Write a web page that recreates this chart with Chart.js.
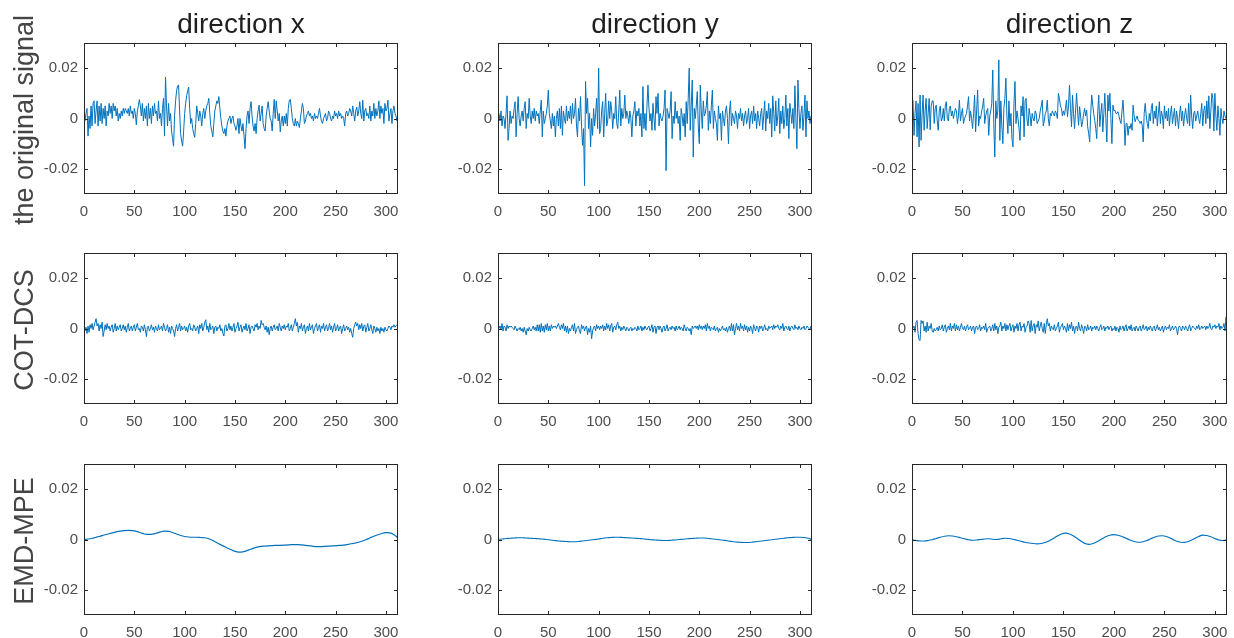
<!DOCTYPE html>
<html>
<head>
<meta charset="utf-8">
<script src="https://cdn.jsdelivr.net/npm/chart.js@4.4.1/dist/chart.umd.min.js"></script>
<style>
  html, body { margin: 0; padding: 0; background: #fff; }
  #fig { position: relative; width: 1234px; height: 638px; overflow: hidden; background: #fff;
         font-family: 'Liberation Sans', Arial, sans-serif; }
  .panel { position: absolute; }
  .title { position: absolute; font-size: 28px; line-height: 1; color: #1f1f1f; white-space: nowrap; transform: translateX(-50%); }
  .rowlab { position: absolute; font-size: 27px; line-height: 1; color: #454545; white-space: nowrap;
            transform: translate(-50%, -50%) rotate(-90deg); }
</style>
</head>
<body>
<div id="fig"></div>
<script>
// ---------------- data (signal values in units of 1e-3) ----------------
const UNIT = 1e-3;
const COL_TITLES = ['direction x', 'direction y', 'direction z'];
const ROW_LABELS = ['the original signal', 'COT-DCS', 'EMD-MPE'];
const X_TICKS = [0, 50, 100, 150, 200, 250, 300];
const Y_TICKS = [-0.02, 0, 0.02];
const Y_TICK_LABELS = ['-0.02', '0', '0.02'];

const ORIG_X = [
 -1,2,4,-7,1,-4,5,-3,6,7,
 -2,3,7,-3,5,-1,6,-2,4,0,
 5,-3,3,1,6,2,5,0,6,3,
 5,1,4,-1,2,0,3,1,4,2,
 4,3,2,4,1,5,2,3,0,4,
 2,-2.5,3,5,7.5,5,1,6,-1,4,
 0,5,-3,6,0,4,-2,5,1,6,
 2,3,-1,7,0,2,-3,4,8,-7,
 16.5,5,-3,6,-1,2,-5,-8,-11,1,
 7,11,13,13.3,3,-6,-9,-11,-5,2,
 6,9,11,12.5,4,-2,0,-4,-6,-7.5,
 -2,5,2,-1,3,1,-3,2,4,0,
 3,5,6,8,2,-3,-5,-7.3,-2,3,
 5,7,6,8.7,4,0,-3,-5,-6,-4,
 -7,-3,-1,0,1,-2,0,1,-2,-3,
 -4.7,-3,0,-6,0,-3,-5,-2,-7,-12,
 -4,1,3,-2,4,6.7,1,-3,-5,-2,
 -6,0,3,5.3,-1,2,5,-2,-4,-5,
 1,4,6.7,3,0,-1,-5,2,7.6,0,
 7,3,-1,2,-5.3,-1,1,-3,1,-2,
 2,-3,4,7.3,7.6,4,0,-2,-3,0,
 -3,-1,-2,-3.6,0,3,6,4,-2,-1,
 1,2,3,1,2,0,1,-1,2,0,
 1,0,2,4,1,-1,-2,0,1,2,
 -1,0,3,2,0,-1,1,0,3,1,
 2,0,3,1,2,0,1,0,-3,2,
 3,1,2,4,3,1,5,2,-1,3,
 4.5,1,3,6.7,2,0,7.3,-1,3,4,
 1,2,0,5,-1,3,1,6,0,4,
 1,3,7,0,5,2,4,-2,6,3,
 4,7.3,-1,2,4,-2,3,5,2,1,
 -1,1
];

const ORIG_Y = [
 2,-1,3,-3,1,0,-4,2,9,-8.7,
 -4,3,-2,1,0,4,6.7,-7.3,2,8.7,
 0,-3,1,3,-1,4,6.7,-4,2,0,
 8,1,-2,3,0,4,-1,3,1,2,
 -2,3,7.3,-7.3,3,-2,0,2,5,11.3,
 2,-1,-4,2,-3,1,-7.3,0,3,-3,
 4,-4,5,-6.7,3,0,-2,5,-1,3,
 0,5,-2,6,0,2,8,-3,-7.3,4,
 -1,8.7,-3,-10.7,-4,-26.7,14.7,2,8,-4,
 2,-11.3,0,-6.7,4,-3,2,8,-4,20,
 -6,-4,3,6.7,-7.3,2,10,-3,-1,7,
 0,6.7,3,-4,2,0,8.7,-2,-4,3,
 11.3,-3,4,0,2,9.3,0,3,1,-2,
 3,0,-7.3,1,3,6.7,-3,3,1,4,
 -3,2,-7.3,12.7,-4,2,-4.7,5,13.3,4,
 -1,2,-4.7,6,0,-4.7,8.7,2,10,-3,
 2,0,-1,1,4,11.3,-20.7,4,2,0,
 3,10.7,-8,1,-2,6.7,0,3,-2,1,
 -8.7,4,1,-3,2,-7.3,6.7,-2,8,20,
 -4.7,5,15.3,-15.3,4,0,5,10.7,-3,-10,
 13.3,3,-4,7,1,2,5,10.7,-4.7,3,
 -2,5,11.3,-4,3,0,-2,-8.7,5,0,
 2,-8.7,3,0,-3,3,5,0,-10,3,
 7,-3,2,0,-2,3,1,-4,2,0,
 4,-1,2,-3,1,3,-2,0,4,-4,
 1,3,-2,5,-1,2,-4,3,0,-3,
 2,4,-4.5,1,7,-5,3,0,6,-2,
 4,-7.3,9,2,-5,7,-3,1,8,-6,
 3,-2,5,-4,0,9.3,-3,4,-8,6,
 2,-2,4,-4,13,0,-12,15.3,4,-4,
 2,5,-4.7,1,9.3,-7.3,7,0,3,-2,
 1,0
];

const ORIG_Z = [
 7.3,-6.7,2,7,-7.3,6,-11.3,9.3,-8.7,2,
 9.3,-4.7,3,8,-4,2,8,-4.5,5,7,
 7,-2,4,5.3,-1,-4.7,3,5,-1,0,
 4,-1,5,6.7,0,-1,4,5,1,3,
 0,2,4,3,-2,1,7.3,-1,2,4,
 -2,0,1,2,5,8.7,-1,3,0,-4,
 2,9.3,-5.3,3,11.3,-3,1,0,3,5,
 8,-2,1,3,4,-6.7,1,3,6,19.3,
 -2,-15.3,7,0,3,23.3,-8.7,7,-3,-10,
 4,8,16,1,-6,7,-3,2,-8,-11.3,
 6,14.7,-2,3,0,-4,-8.7,5,1,8.7,
 -7.3,7,8,-1,-3,4,1,-3,2,0,
 -1,3,2,-2,-1,0,3,5,7.3,-3,
 -1,2,3,7.3,0,-3,2,1,3,2,
 1,3,2,0,10,8,5,4,1,3,
 1.3,4,7.3,0.7,5,13.3,4,-3.3,9.3,2,
 -4,3,10,3,-2.7,4.7,1,-3.3,-1.3,2,
 4,1,3.3,-3.3,-6,
 -9.3,2,9.3,5.3,2,-0.7,-4,-8,3,9.3,
 -3.3,2,6,-5.3,2,10,0,-9.3,9.3,3,
 10,0,-10,5.3,3,3.3,2,2,2.7,1,
 -0.7,-2,3,7.3,0,-10.7,-2,-2,-6.7,-3,
 -4,-2,-4.7,5.3,1,-1.3,0,1,-0.7,-1,
 -2,-1,-2.7,-9.3,2,6,1,-2,-4,2,
 -1,4,6,-2,3,0,5,-3,2,6.7,
 -2,3,1,-4,5,0,3,-1,4,-3,
 2,5,-2,1,4,-3,3,0,-4,2,
 5,-1,3,-3,1,4,0,-2,6,-3,
 9.3,1,-4,2,3,-1,1,3,0,-2,
 2,6,-3,3,5,-2,7,0,9,-4,
 3,10,8,-5,10,1,-4.7,5,0,-6.7,
 4,0,-2,3,1,0,1
];

const COT_X = [
 -1,0.5,-2,1,-1.5,1.5,0,2,-0.5,1,
 2.5,3.9,1,2,-1,1.5,0,2.5,-3.2,-1,
 1.5,-0.5,2,0,1,-1,0.5,1.5,-1.5,0,
 2,-1,1,-0.5,0.5,1.5,-1,0,1.5,-0.5,
 1,-1.5,0.5,2,-1,0,1,-1,0.5,1.5,
 -1,0.5,2,-0.5,0,-1.5,1,0.5,-1,1.5,
 -0.5,-3.2,0.5,1,-1,0,1.5,-0.5,0.5,-1.5,
 1,0,-1,1.5,-0.5,0,1,-1,2,0.5,
 -1,0,1.5,-1.5,0.5,-2,1,0,-1,-3.2,
 0,1.5,-1,0.5,2,-1,1,-0.5,0,1,
 -1,0.5,-1.5,1,2,-0.5,0,-1,1.5,0.5,
 -1,0,1,-2,1.5,0,2,-1,0.5,2.5,
 3.5,-0.5,1,-1.5,2,-0.5,0,1,-2,0.5,
 1,-1,0.5,0,1.5,-1,0,-2,-3,1,
 1.5,-1,0,2,-0.5,1,-1,0.5,2,-1.5,
 0,1,2.5,-1,0.5,1.5,-1.5,0,1,-0.5,
 2,-1,0,1.5,-2,0.5,1,0,-1,1.5,
 0.5,2,-0.5,1,0,3.2,1.5,2,0.5,-0.5,
 1,-1.5,0.5,-2.5,0,1,-1,0.5,1.5,-0.5,
 0,1,-1,2,0.5,-1,1,0,1.5,-0.5,
 1,0.5,2,-1,0,1.5,-1,0.5,2,3.9,
 1,2.5,-1.5,1,0,2,-1,0.5,1.5,-2,
 0,1,-1,2,-0.5,0.5,1.5,-2,0,1,
 2,-1,0.5,1.5,-1.5,1,0,2,-1,0.5,
 1.5,-1,0,2,-0.5,1,-1.5,0.5,2,-1,
 0,1.5,-1,0.5,1,-2,0,1.5,-1,0,
 1,-0.5,0.5,-1.5,0,-2,-3.5,0,1.5,2.5,
 1,2,-0.5,1.5,0,2,-1,1,1.5,-1.5,
 0.5,2,-1,0,1.5,-0.5,-2,1,0,-1.5,
 0.5,-1,0,-2,0.5,-1,0,-1.5,0.5,-0.5,
 -1,0,1,0.5,-0.5,1,0.5,1.5,0.5,1,
 1.5,0.5
];

const COT_Y = [
 0,1,-0.5,2,-1,1,0.5,-1,1.5,0,
 1,0.5,1,0.5,0,-0.5,1,0,-1,0,
 -0.5,0.5,-1,0,-1.5,0.5,-1,-2.5,0,-1,
 0.5,-0.5,-1,0,1,-0.5,0.5,-1,1.5,-1,
 1.5,-1.5,2,-1,1,-1.5,1.5,-0.5,2,-1,
 1,-1,1.5,0,1,0.5,1,0,1,2,
 0.5,-0.5,1.5,0,2,-1,1,-1.5,1,-2,
 0,-1,0.5,1.5,-1,2,-2,-0.5,0.5,1,
 -1,-2,1.5,0,1,-1,0.5,1,-2.5,0,
 -1.5,1,-4.1,-1,0.5,1,-1,1.5,0,1,
 -0.5,1,0,1.5,-1,1,-0.5,2,0,1.5,
 -1,1,2,-1.5,0.5,1,-0.5,1.5,2.5,0,
 1,-1,0.5,-0.5,1,0,-1,0.5,0,-1,
 0,0.5,-1,0,-0.5,0.5,0,-1,1,-0.5,
 0,1,-1,0.5,-0.5,1,0,-0.5,0.5,1,
 -1,0,1.5,-1.5,0.5,1,-2,0.5,1,-0.5,
 1,0,-1.5,0.5,1,-1,0,1.5,-1,0,
 0.5,-0.5,1,0,0.5,-1,1,-0.5,0,1,
 -0.5,0.5,0,-1,1.5,0,-1,0.5,0,-1,
 0,-2.5,1,0,0.5,1,0,1,-0.5,1.5,
 0,1,-0.5,1,0,1.5,-1,2,0,1,
 -1,0.5,0,-0.5,1,-1,0,0.5,-1.5,0,
 -1,0,1,-0.5,0,-1,0.5,-1.5,0,1,
 -1,2,-1,1.5,-2.5,0,2,-0.5,1,-1,
 2,0,1,-1,1.5,-0.5,1,-1.5,0.5,-1,
 1,0,-2,1.5,0,-1,1,0.5,-1.5,1,
 0,1,-1,0,1.5,-0.5,0,-1,1,0,
 0.5,1,-0.5,1.5,0,1,0.5,1.5,0,-0.5,
 1,0,2,-1,0.5,1,0,-0.5,1,-1,
 0.5,1,0,-0.5,1.5,0,0.5,-0.5,1,0,
 -0.5,0.5,0,1,-0.5,0,1,0.5,0,-0.5,
 1,0
];

const COT_Z = [
 0,1,-1.5,2.5,3.2,-2,-4.5,-4.8,3.2,2,
 3,-1,1,-1.5,2.5,-1,1,0,2,-1,
 -1.5,0,-1,-0.5,0.5,-1,1,-0.5,0,1.5,
 -1,0.5,1.5,-1.5,0,1,-0.5,2,-1,1,
 0,2,-1,1.5,-0.5,1,-1,0.5,2,0,
 -0.5,1,-1,0.5,1.5,-0.5,0,1,-1,0.5,
 1,-2,0.5,1,-0.5,0,1.5,-1,0.5,0,
 1,-0.5,2,-1.5,0,0.5,1,-1,0,1.5,
 -1,2,-0.5,1,-2,0.5,1,2.5,-1,1,
 0,2,-1,1.5,-0.5,1,2,-1,0.5,1.5,
 -1.5,1,0,2,-1,1.5,2.5,-1,1,0.5,
 2,-1.5,0.5,1,3,2,-1.5,3.2,-1,1,
 2,-2,1.5,0.5,3,-1,1,2.5,0,-1.5,
 2,-2,1.5,3.9,1,2,-1,1,0,-0.5,
 1.5,-1,0,1,2.5,-1.5,0.5,1,2,-0.5,
 1,0,-1.5,2,-1,1.5,0,2.5,-1,1,
 -2,0.5,1,-1,2.5,0,-1,1.5,0,-2,
 1,0.5,-1,1.5,-0.5,0,1,-1,0.5,0,
 1,-0.5,1,0,-1,0.5,1.5,-0.5,0,1,
 -1,0.5,0,1,-0.5,0.5,1,-1,0,-0.5,
 1,-1,0.5,0,-1.5,1,-0.5,0,1,-1,
 0.5,1.5,-1,0,1,-0.5,1.5,-1,0,0.5,
 -1,1,0,-1,0.5,1,-1,0,1.5,-0.5,
 0,1,-1,0.5,-0.5,1,0,-1,0.5,1,
 -1,0,1.5,-0.5,0.5,-1,0,1,-1.5,0,
 1,-0.5,0.5,0,1.5,-1,0,1,-0.5,0,
 1,0,-2.5,0.5,1,0,-1,1,0.5,-0.5,
 1,0,-1,0.5,1.5,-1,0,1,0.5,0,
 -0.5,1,0,1.5,-0.5,0,1,0,0.5,1,
 -0.5,1,0,0.5,2,0,-0.5,1,0.5,1.5,
 0,1,0.5,2,-0.5,1,0,0.5,2,-1,
 4.5,0
];

// smooth EMD-MPE curves, read every 4 samples
const EMD_SAMPLES = [0,4,8,12,16,20,24,28,32,36,40,44,48,52,56,60,64,68,72,76,80,84,88,92,96,100,
 104,108,112,116,120,124,128,132,136,140,144,148,152,156,160,164,168,172,176,180,184,188,192,196,200,
 204,208,212,216,220,224,228,232,236,240,244,248,252,256,260,264,268,272,276,280,284,288,292,296,300,
 304,308,312];
const EMD_X = [0,0.2,0.5,0.9,1.3,1.8,2.2,2.6,3.0,3.3,3.5,3.6,3.5,3.2,2.7,2.2,2.0,2.1,2.5,3.0,3.3,3.2,2.8,2.2,1.6,1.2,
 1.0,0.9,0.9,0.8,0.7,0.3,-0.4,-1.3,-2.1,-2.9,-3.7,-4.4,-4.9,-5.0,-4.7,-4.1,-3.5,-3.0,-2.7,-2.6,-2.5,-2.4,-2.3,-2.3,-2.2,
 -2.1,-2.0,-2.0,-2.1,-2.3,-2.5,-2.7,-2.8,-2.8,-2.7,-2.6,-2.5,-2.4,-2.3,-2.1,-1.8,-1.5,-1.2,-0.7,-0.1,0.6,1.3,1.9,2.4,2.7,
 2.6,1.9,0.7];
const EMD_Y = [0,0.2,0.4,0.5,0.6,0.7,0.7,0.6,0.5,0.4,0.3,0.2,0.0,-0.2,-0.4,-0.6,-0.7,-0.8,-0.9,-0.9,-0.8,-0.6,-0.4,-0.2,0.0,0.2,
 0.5,0.7,0.8,0.9,0.9,0.8,0.7,0.6,0.5,0.4,0.3,0.1,-0.1,-0.2,-0.3,-0.4,-0.4,-0.3,-0.2,0.0,0.1,0.3,0.4,0.5,0.6,
 0.6,0.5,0.3,0.1,-0.1,-0.3,-0.5,-0.8,-1.0,-1.1,-1.2,-1.2,-1.1,-0.9,-0.7,-0.5,-0.3,-0.1,0.1,0.3,0.5,0.7,0.8,0.9,0.9,
 0.8,0.5,0.0];
const EMD_Z = [-0.1,-0.4,-0.6,-0.6,-0.4,-0.1,0.4,0.9,1.3,1.5,1.4,1.1,0.7,0.3,-0.1,-0.3,-0.2,0.0,0.2,0.3,0.1,0.0,0.3,0.5,0.4,0.1,
 -0.3,-0.7,-1.1,-1.4,-1.6,-1.7,-1.6,-1.2,-0.5,0.4,1.4,2.2,2.5,2.2,1.4,0.3,-0.8,-1.7,-1.9,-1.5,-0.7,0.2,1.1,1.7,1.9,
 1.7,1.2,0.5,-0.2,-0.8,-1.1,-1.0,-0.5,0.2,0.9,1.4,1.5,1.2,0.5,-0.3,-0.9,-1.2,-1.0,-0.4,0.4,1.2,1.7,1.6,1.1,0.4,
 -0.2,-0.4,-0.2];

const SAMPLES = ORIG_X.map((_, i) => i + 1);

// ---------------- layout ----------------
const COL_LEFT = [84, 498, 912];
const COL_W = [314, 314, 315];
const ROW_TOP = [43, 253, 464];
const ROW_H = 151;
const PAD = { l: 72, r: 10, t: 24, b: 32 };
const LINE_COLOR = '#0072BD';

const GRID = [
  [{ xs: SAMPLES, ys: ORIG_X }, { xs: SAMPLES, ys: ORIG_Y }, { xs: SAMPLES, ys: ORIG_Z }],
  [{ xs: SAMPLES, ys: COT_X },  { xs: SAMPLES, ys: COT_Y },  { xs: SAMPLES, ys: COT_Z }],
  [{ xs: EMD_SAMPLES, ys: EMD_X, smooth: true }, { xs: EMD_SAMPLES, ys: EMD_Y, smooth: true }, { xs: EMD_SAMPLES, ys: EMD_Z, smooth: true }]
];

Chart.defaults.font.family = "'Liberation Sans', Arial, sans-serif";
Chart.defaults.font.size = 15;
Chart.defaults.color = '#4d4d4d';

const boxTicks = {
  id: 'boxTicks',
  afterDraw(chart) {
    const { ctx, chartArea: a, scales: { x, y } } = chart;
    const L = 3.5;
    ctx.save();
    ctx.strokeStyle = '#262626';
    ctx.lineWidth = 1;
    const l = Math.round(a.left) + 0.5, r = Math.round(a.right) - 0.5;
    const t = Math.round(a.top) + 0.5, b = Math.round(a.bottom) - 0.5;
    ctx.strokeRect(l, t, r - l, b - t);
    ctx.beginPath();
    for (const tk of x.ticks) {
      const px = Math.round(x.getPixelForValue(tk.value)) + 0.5;
      ctx.moveTo(px, b); ctx.lineTo(px, b - L);
      ctx.moveTo(px, t); ctx.lineTo(px, t + L);
    }
    for (const tk of y.ticks) {
      const py = Math.round(y.getPixelForValue(tk.value)) + 0.5;
      ctx.moveTo(l, py); ctx.lineTo(l + L, py);
      ctx.moveTo(r, py); ctx.lineTo(r - L, py);
    }
    ctx.stroke();
    ctx.restore();
  }
};

const fig = document.getElementById('fig');

GRID.forEach((row, ri) => {
  row.forEach((cell, ci) => {
    const div = document.createElement('div');
    div.className = 'panel';
    const w = COL_W[ci] + PAD.l + PAD.r, h = ROW_H + PAD.t + PAD.b;
    div.style.left = (COL_LEFT[ci] - PAD.l) + 'px';
    div.style.top = (ROW_TOP[ri] - PAD.t) + 'px';
    div.style.width = w + 'px';
    div.style.height = h + 'px';
    const cv = document.createElement('canvas');
    cv.width = w; cv.height = h;
    cv.style.width = w + 'px'; cv.style.height = h + 'px';
    div.appendChild(cv);
    fig.appendChild(div);

    const pts = cell.xs.map((xv, i) => ({ x: xv, y: cell.ys[i] * UNIT }));
    new Chart(cv, {
      type: 'line',
      data: { datasets: [{
        data: pts,
        borderColor: LINE_COLOR,
        borderWidth: cell.smooth ? 1.2 : 1,
        pointRadius: 0,
        fill: false,
        tension: cell.smooth ? 0.4 : 0,
        cubicInterpolationMode: cell.smooth ? 'monotone' : 'default'
      }] },
      options: {
        responsive: false,
        animation: false,
        events: [],
        layout: { padding: { top: PAD.t, right: PAD.r, left: 0, bottom: 0 } },
        plugins: { legend: { display: false }, tooltip: { enabled: false }, title: { display: false } },
        scales: {
          x: {
            type: 'linear', min: 0, max: 312,
            grid: { display: false, drawTicks: false },
            border: { display: false },
            afterBuildTicks: s => { s.ticks = X_TICKS.map(v => ({ value: v })); },
            afterFit: s => { s.height = PAD.b; },
            ticks: { padding: 9, maxRotation: 0, autoSkip: false, callback: v => String(v) }
          },
          y: {
            type: 'linear', min: -0.03, max: 0.03,
            grid: { display: false, drawTicks: false },
            border: { display: false },
            afterBuildTicks: s => { s.ticks = Y_TICKS.map(v => ({ value: v })); },
            afterFit: s => { s.width = PAD.l; },
            ticks: { padding: 6, autoSkip: false, callback: (v, i) => Y_TICK_LABELS[i] }
          }
        }
      },
      plugins: [boxTicks]
    });
  });
});

// column titles
COL_TITLES.forEach((t, ci) => {
  const d = document.createElement('div');
  d.className = 'title';
  d.textContent = t;
  d.style.left = (COL_LEFT[ci] + COL_W[ci] / 2) + 'px';
  d.style.top = '10px';
  fig.appendChild(d);
});
// row labels
ROW_LABELS.forEach((t, ri) => {
  const d = document.createElement('div');
  d.className = 'rowlab';
  d.textContent = t;
  d.style.left = '23.5px';
  d.style.top = (ROW_TOP[ri] + ROW_H / 2 + 1) + 'px';
  fig.appendChild(d);
});
</script>
</body>
</html>
